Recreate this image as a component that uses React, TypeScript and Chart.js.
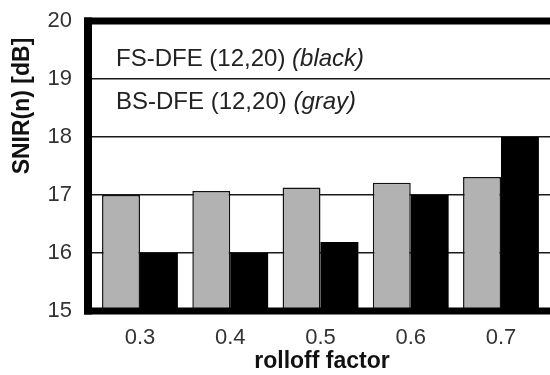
import React, { useEffect, useRef } from "react";
import { Chart, registerables } from "chart.js";

Chart.register(...registerables);

// ---- data ----
const rolloff = [0.3, 0.4, 0.5, 0.6, 0.7];
const rolloffLabels = ["0.3", "0.4", "0.5", "0.6", "0.7"];
const bsDfeGray = [17.0, 17.07, 17.13, 17.21, 17.31];
const fsDfeBlack = [16.0, 16.0, 16.19, 17.0, 18.0];
const yTicks = [15, 16, 17, 18, 19, 20];
const yTitle = "SNIR(n) [dB]";
const xTitle = "rolloff factor";
const legendMain = ["FS-DFE (12,20) ", "BS-DFE (12,20) "];
const legendItalic = ["(black)", "(gray)"];

const FONT = "'Liberation Sans', Arial, Helvetica, sans-serif";

const framePlugin = {
  id: "frame",
  afterDatasetsDraw(chart: any) {
    const { ctx, chartArea } = chart;
    const { left, right, top, bottom } = chartArea;
    ctx.save();
    ctx.strokeStyle = "#000";
    ctx.lineCap = "butt";
    ctx.lineWidth = 7;
    ctx.beginPath();
    ctx.moveTo(left - 4, top);
    ctx.lineTo(right, top);
    ctx.moveTo(left - 4, bottom);
    ctx.lineTo(right, bottom);
    ctx.stroke();
    ctx.lineWidth = 8;
    ctx.beginPath();
    ctx.moveTo(left, top - 3.5);
    ctx.lineTo(left, bottom + 3.5);
    ctx.stroke();
    ctx.restore();
  },
  afterDraw(chart: any) {
    const { ctx } = chart;
    ctx.save();
    ctx.fillStyle = "#111";
    ctx.font = `bold 23px ${FONT}`;
    ctx.textAlign = "center";
    ctx.textBaseline = "middle";
    ctx.translate(23, 106);
    ctx.rotate(-Math.PI / 2);
    ctx.fillText(yTitle, 0, 0);
    ctx.restore();

    ctx.save();
    ctx.fillStyle = "#111";
    ctx.font = `bold 23px ${FONT}`;
    ctx.textAlign = "center";
    ctx.textBaseline = "middle";
    ctx.fillText(xTitle, 322, 362);
    ctx.restore();

    ctx.save();
    ctx.fillStyle = "#222";
    ctx.textBaseline = "middle";
    ctx.textAlign = "left";
    const ys = [59, 102];
    for (let i = 0; i < legendMain.length; i++) {
      ctx.font = `24px ${FONT}`;
      const w = ctx.measureText(legendMain[i]).width;
      ctx.fillText(legendMain[i], 116, ys[i]);
      ctx.font = `italic 24px ${FONT}`;
      ctx.fillText(legendItalic[i], 116 + w, ys[i]);
    }
    ctx.restore();
  },
};

export default function App() {
  const canvasRef = useRef<HTMLCanvasElement | null>(null);

  useEffect(() => {
    const canvas = canvasRef.current;
    if (!canvas) return;
    const chart = new Chart(canvas, {
      type: "bar",
      data: {
        datasets: [
          {
            label: "BS-DFE (12,20)",
            data: rolloff.map((x, i) => ({ x, y: bsDfeGray[i] })),
            backgroundColor: "#b2b2b2",
            borderColor: "#111",
            borderWidth: 1.5,
            borderSkipped: false,
          },
          {
            label: "FS-DFE (12,20)",
            data: rolloff.map((x, i) => ({ x, y: fsDfeBlack[i] })),
            backgroundColor: "#000",
            borderColor: "#000",
            borderWidth: 0,
          },
        ],
      },
      options: {
        animation: false,
        responsive: true,
        maintainAspectRatio: false,
        categoryPercentage: 0.84,
        barPercentage: 1.0,
        layout: { padding: { top: 21, right: 0, bottom: 0, left: 0 } },
        plugins: {
          legend: { display: false },
          tooltip: { enabled: false },
          title: { display: false },
        },
        scales: {
          x: {
            type: "linear",
            offset: false,
            min: 0.2424,
            max: 0.7543,
            afterBuildTicks: (scale: any) => {
              scale.ticks = rolloff.map((v) => ({ value: v }));
            },
            afterFit: (scale: any) => {
              scale.height = 64;
              scale.paddingLeft = 0;
              scale.paddingRight = 0;
              scale.paddingTop = 0;
              scale.paddingBottom = 0;
            },
            grid: { display: false, drawTicks: false },
            border: { display: false },
            ticks: {
              padding: 14,
              color: "#333",
              font: { family: FONT, size: 22 },
              maxRotation: 0,
              autoSkip: false,
              callback: (_v: any, i: number) => rolloffLabels[i],
            },
          },
          y: {
            type: "linear",
            min: 15,
            max: 20,
            afterBuildTicks: (scale: any) => {
              scale.ticks = yTicks.map((v) => ({ value: v }));
            },
            afterFit: (scale: any) => {
              scale.width = 88;
              scale.paddingLeft = 0;
              scale.paddingRight = 0;
              scale.paddingTop = 0;
              scale.paddingBottom = 0;
            },
            grid: { color: "#1a1a1a", lineWidth: 1.5, drawTicks: false },
            border: { display: false },
            ticks: {
              padding: 16,
              color: "#333",
              font: { family: FONT, size: 22 },
              callback: (v: any) => String(v),
            },
          },
        },
      },
      plugins: [framePlugin],
    });
    return () => chart.destroy();
  }, []);

  return (
    <div style={{ position: "absolute", left: 0, top: 0, width: 550, height: 375, background: "#fff" }}>
      <canvas ref={canvasRef} />
    </div>
  );
}
